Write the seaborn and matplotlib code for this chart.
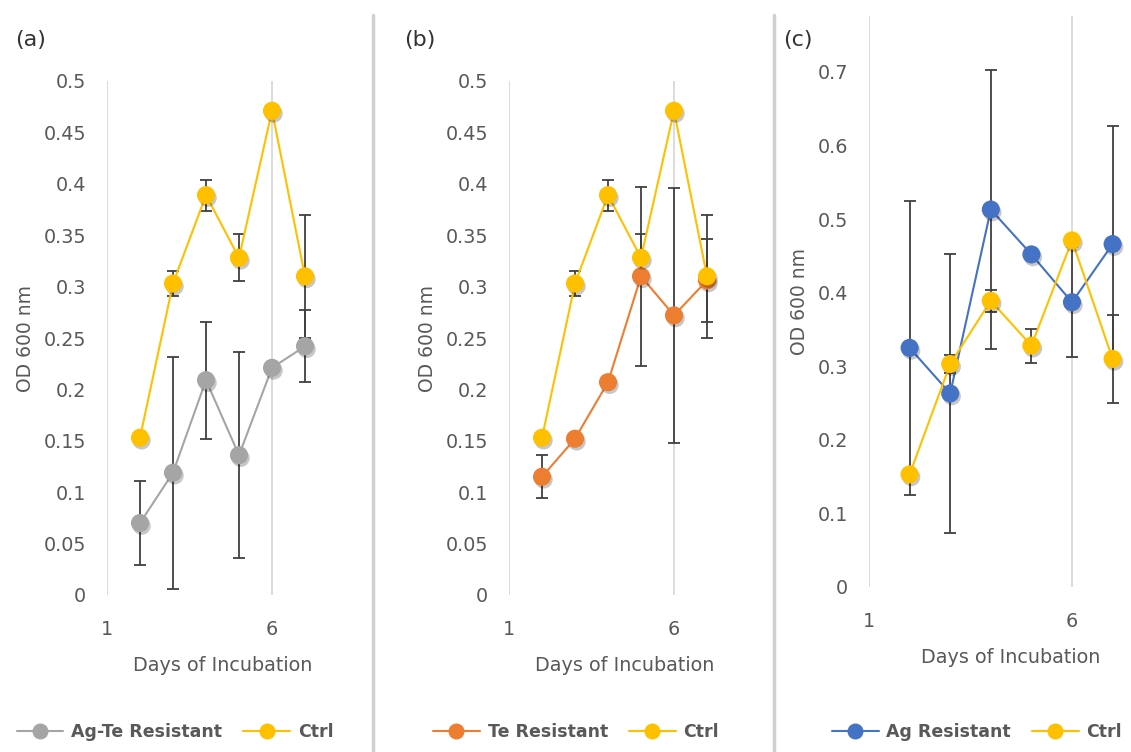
import matplotlib
matplotlib.use("Agg")
import matplotlib.pyplot as plt
import matplotlib.patheffects as pe
from matplotlib.lines import Line2D
import seaborn as sns
import pandas as pd

# ---- data ----
days = [2, 3, 4, 5, 6, 7]
ctrl = [0.153, 0.303, 0.389, 0.328, 0.471, 0.310]
ctrl_err = [0.005, 0.0125, 0.015, 0.023, 0.003, 0.060]
agte = [0.070, 0.119, 0.209, 0.136, 0.221, 0.242]
agte_err = [0.041, 0.113, 0.057, 0.100, 0.004, 0.035]
te = [0.115, 0.152, 0.207, 0.310, 0.272, 0.306]
te_err = [0.021, 0.003, 0.006, 0.087, 0.124, 0.040]
ag = [0.325, 0.263, 0.513, 0.452, 0.387, 0.466]
ag_err = [0.200, 0.190, 0.190, 0.004, 0.075, 0.160]

panel_labels = ["(a)", "(b)", "(c)"]
series_names = ["Ag-Te Resistant", "Te Resistant", "Ag Resistant"]
xticks = [1, 6]
yticks_ab = [0, 0.05, 0.1, 0.15, 0.2, 0.25, 0.3, 0.35, 0.4, 0.45, 0.5]
ytick_labels_ab = ["0", "0.05", "0.1", "0.15", "0.2", "0.25", "0.3", "0.35", "0.4", "0.45", "0.5"]
yticks_c = [0, 0.1, 0.2, 0.3, 0.4, 0.5, 0.6, 0.7]
ytick_labels_c = ["0", "0.1", "0.2", "0.3", "0.4", "0.5", "0.6", "0.7"]

sns.set_style("white")
plt.rcParams["font.family"] = ["DejaVu Sans"]

W, H = 1131, 752
fig = plt.figure(figsize=(W / 100, H / 100), dpi=100)

YELLOW = "#FFC000"
GRAY = "#A5A5A5"
ORANGE = "#ED7D31"
BLUE = "#4472C4"
TXT = "#595959"
ERR = "#404040"

def fx(px):
    return px / W

def fy(py):
    return 1 - py / H

# axes rects in pixels: left, right, top, bottom
rects = [
    (107, 338, 81, 595),
    (509, 740, 81, 595),
    (869, 1131, 16, 587),
]
xlims = [(1, 8), (1, 8), (1, 1 + (1131 - 869) / 40.6)]
ylims = [(0, 0.5), (0, 0.5), (0, 0.776)]
series = [(agte, agte_err, GRAY), (te, te_err, ORANGE), (ag, ag_err, BLUE)]
legend_centers = [175, 576, 977]
label_x = [15, 404, 783]
xlabel_x = [0.5, 0.5, 0.542]

shadow = [pe.SimplePatchShadow(offset=(1.2, -2.0), shadow_rgbFace="#000000", alpha=0.22), pe.Normal()]

for i in range(3):
    l, r, t, b = rects[i]
    ax = fig.add_axes([fx(l), fy(b), (r - l) / W, (b - t) / H])
    vals, errs, col = series[i]
    df = pd.DataFrame({"day": days * 2,
                       "od": vals + ctrl,
                       "series": [series_names[i]] * 6 + ["Ctrl"] * 6})
    # error bars
    ax.errorbar(days, vals, yerr=errs, fmt="none", ecolor=ERR, elinewidth=1.3,
                capsize=4.5, capthick=1.3, zorder=2)
    ax.errorbar(days, ctrl, yerr=ctrl_err, fmt="none", ecolor=ERR, elinewidth=1.3,
                capsize=4.5, capthick=1.3, zorder=2)
    for name, c, z in [(series_names[i], col, 3), ("Ctrl", YELLOW, 5)]:
        sub = df[df["series"] == name]
        sns.lineplot(data=sub, x="day", y="od", color=c, linewidth=1.5,
                     ax=ax, legend=False, errorbar=None, zorder=z)
        sc = sns.scatterplot(data=sub, x="day", y="od", color=c, s=170,
                             linewidth=0, ax=ax, legend=False, zorder=z + 1)
        sc.collections[-1].set_path_effects(shadow)
    ax.set_xlim(*xlims[i])
    ax.set_ylim(*ylims[i])
    ax.set_xticks(xticks)
    ax.set_xticklabels([str(v) for v in xticks])
    if i < 2:
        ax.set_yticks(yticks_ab)
        ax.set_yticklabels(ytick_labels_ab)
    else:
        ax.set_yticks(yticks_c)
        ax.set_yticklabels(ytick_labels_c)
    for s in ax.spines.values():
        s.set_visible(False)
    ax.grid(True, axis="x", color="#D9D9D9", linewidth=1.3)
    ax.grid(False, axis="y")
    ax.tick_params(axis="y", length=0, pad=15, labelsize=13.8, labelcolor=TXT)
    ax.tick_params(axis="x", length=0, pad=18, labelsize=13.8, labelcolor=TXT)
    ax.set_xlabel("Days of Incubation", fontsize=13.8, color=TXT, labelpad=12)
    ax.xaxis.label.set_x(xlabel_x[i])
    ax.set_ylabel("OD 600 nm", fontsize=13.5, color=TXT, labelpad=6)
    ax.patch.set_alpha(0)

    handles = [
        Line2D([], [], color=col, marker="o", markersize=11.5, markeredgewidth=0, linewidth=1.5),
        Line2D([], [], color=YELLOW, marker="o", markersize=11.5, markeredgewidth=0, linewidth=1.5),
    ]
    leg = ax.legend(handles, [series_names[i], "Ctrl"], loc="center",
                    bbox_to_anchor=(fx(legend_centers[i]), fy(732)),
                    bbox_transform=fig.transFigure, ncol=2, frameon=False,
                    handlelength=2.7, handletextpad=0.45, columnspacing=1.2,
                    prop={"weight": "bold", "size": 12.5})
    for tx in leg.get_texts():
        tx.set_color(TXT)

    fig.text(fx(label_x[i]), fy(40), panel_labels[i], fontsize=16, color="#333333",
             va="center", ha="left")

# separators
for sx in [373, 774]:
    fig.add_artist(Line2D([fx(sx), fx(sx)], [0, fy(15)], transform=fig.transFigure,
                          color="#D0D0D0", linewidth=2.5))

fig.savefig("out.png", dpi=100, facecolor="white")
